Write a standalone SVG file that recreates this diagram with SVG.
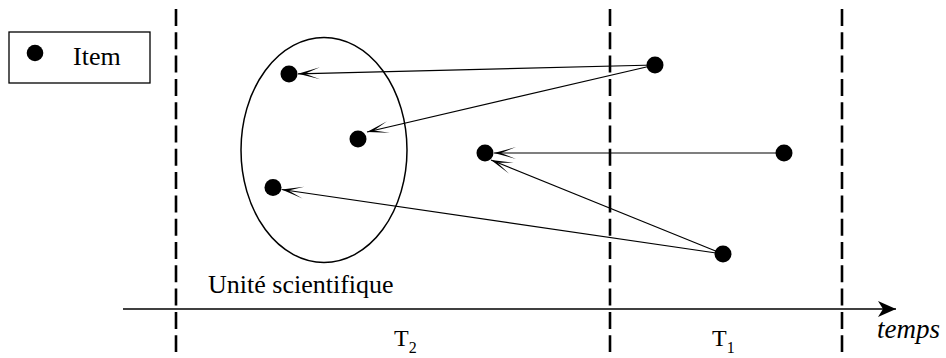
<svg xmlns="http://www.w3.org/2000/svg" width="946" height="358" viewBox="0 0 946 358">
<style>
.dot{fill:#000}
.dash{stroke:#000;stroke-width:2.6;stroke-dasharray:17 6.3;fill:none}
.conn{stroke:#000;stroke-width:1.2;fill:none;marker-end:url(#ah)}
.txt{font-family:'Liberation Serif','Times New Roman',serif;fill:#000}
</style>
<defs>
<marker id="ah" markerUnits="userSpaceOnUse" viewBox="-24 -8 26 16" markerWidth="26" markerHeight="16" refX="0" refY="0" orient="auto" overflow="visible">
<path d="M0,0 L-22,-6 L-7,0 L-22,6 Z" fill="#000"/>
</marker>
<marker id="axh" markerUnits="userSpaceOnUse" viewBox="-20 -10 22 20" markerWidth="22" markerHeight="20" refX="0" refY="0" orient="auto" overflow="visible">
<path d="M0,0 L-18,-8 L-13,0 L-18,8 Z" fill="#000"/>
</marker>
</defs>
<rect width="946" height="358" fill="#fff"/>
<g id="legend">
<rect x="9" y="32" width="141" height="51" fill="none" stroke="#000" stroke-width="1.3"/>
<circle cx="35" cy="53" r="8.3" class="dot"/>
<text x="73" y="65" class="txt" font-size="26">Item</text>
</g>
<g id="separators">
<line x1="176" y1="9" x2="176" y2="352" class="dash"/>
<line x1="610" y1="9" x2="610" y2="352" class="dash"/>
<line x1="842" y1="9" x2="842" y2="352" class="dash"/>
</g>
<g id="axis">
<line x1="123" y1="309" x2="896" y2="309" stroke="#000" stroke-width="1.6" marker-end="url(#axh)"/>
<text x="877" y="338" class="txt" font-size="27" font-style="italic">temps</text>
<text x="394" y="346" class="txt" font-size="24">T<tspan font-size="16" dy="7">2</tspan></text>
<text x="712" y="346" class="txt" font-size="24">T<tspan font-size="16" dy="7">1</tspan></text>
</g>
<g id="unite">
<ellipse cx="324" cy="150" rx="83" ry="112.5" fill="none" stroke="#000" stroke-width="1.5"/>
<text x="208" y="293" class="txt" font-size="26">Unité scientifique</text>
</g>
<g id="connectors">
<line x1="655" y1="65" x2="298" y2="73.8" class="conn"/>
<line x1="655" y1="65" x2="367" y2="132" class="conn"/>
<line x1="784" y1="153" x2="494" y2="153" class="conn"/>
<line x1="723" y1="254" x2="491" y2="160" class="conn"/>
<line x1="723" y1="254" x2="281.6" y2="189.5" class="conn"/>
</g>
<g id="item-a"><circle cx="289" cy="74" r="8.5" class="dot"/></g>
<g id="item-b"><circle cx="358" cy="139" r="8.5" class="dot"/></g>
<g id="item-c"><circle cx="273" cy="187.5" r="8.5" class="dot"/></g>
<g id="item-d"><circle cx="485" cy="153" r="8.5" class="dot"/></g>
<g id="item-e"><circle cx="655" cy="65" r="8.5" class="dot"/></g>
<g id="item-f"><circle cx="784" cy="153" r="8.5" class="dot"/></g>
<g id="item-g"><circle cx="723" cy="254" r="8.5" class="dot"/></g>
</svg>
